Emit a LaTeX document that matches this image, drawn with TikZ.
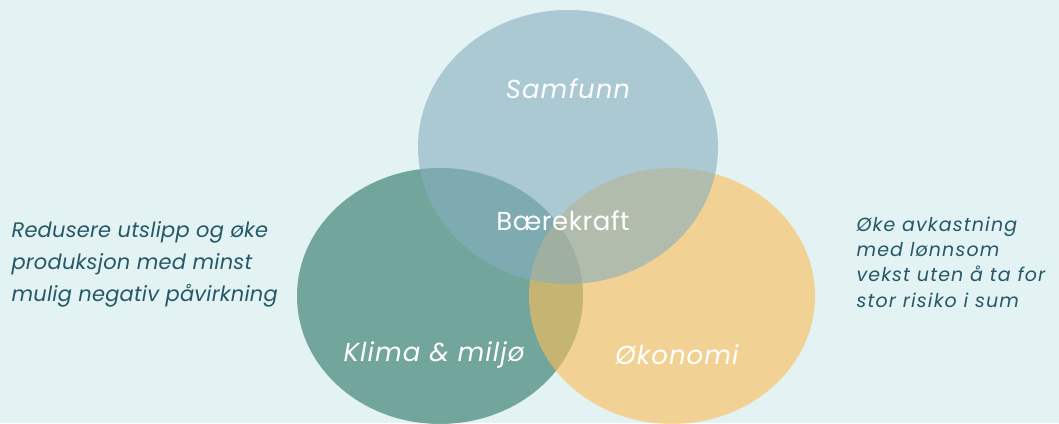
\documentclass[tikz,border=0pt]{standalone}
\usepackage{fontspec}
\setmainfont{Poppins}
\usetikzlibrary{shapes.geometric}
\definecolor{bg}{RGB}{227,242,243}
\definecolor{klima}{RGB}{39,114,98}
\definecolor{okonomi}{RGB}{253,190,86}
\definecolor{samfunn}{RGB}{134,174,191}
\definecolor{tekst}{RGB}{38,88,104}
\begin{document}
\begin{tikzpicture}[x=1pt,y=-1pt,
  sirkel/.style={ellipse,inner sep=0pt,fill opacity=0.6,minimum width=286pt,minimum height=256pt},
  navn/.style={text=white,font=\fontsize{26}{30}\selectfont\itshape\addfontfeature{LetterSpace=4}},
  forklaring/.style={text=tekst,align=left,font=\fontsize{21}{32}\selectfont\itshape\addfontfeature{LetterSpace=1}}]
\fill[bg] (0,0) rectangle (1059,423);
\useasboundingbox (0,0) rectangle (1059,423);
\node [sirkel,fill=klima] (k) at (440,296) {};
\node [sirkel,fill=okonomi] (o) at (672,296) {};
\node [sirkel,fill=samfunn,minimum width=300pt,minimum height=274pt] (s) at (568,147) {};
\node [navn] (sn) at (568,89) {Samfunn};
\node [navn] (kn) at (434,355) {Klima \& miljø};
\node [navn] (on) at (677,355) {Økonomi};
\node [text=white,font=\fontsize{26}{30}\selectfont\addfontfeature{LetterSpace=2}] (b) at (563,221) {Bærekraft};
\node [forklaring,anchor=west] (kt) at (8,264) {Redusere utslipp og øke\\produksjon med minst\\mulig negativ påvirkning};
\node [forklaring,anchor=west,font=\fontsize{19}{25.3}\selectfont\itshape\addfontfeature{LetterSpace=6}] (ot) at (853,262) {Øke avkastning\\med lønnsom\\vekst uten å ta for\\stor risiko i sum};
\end{tikzpicture}
\end{document}
